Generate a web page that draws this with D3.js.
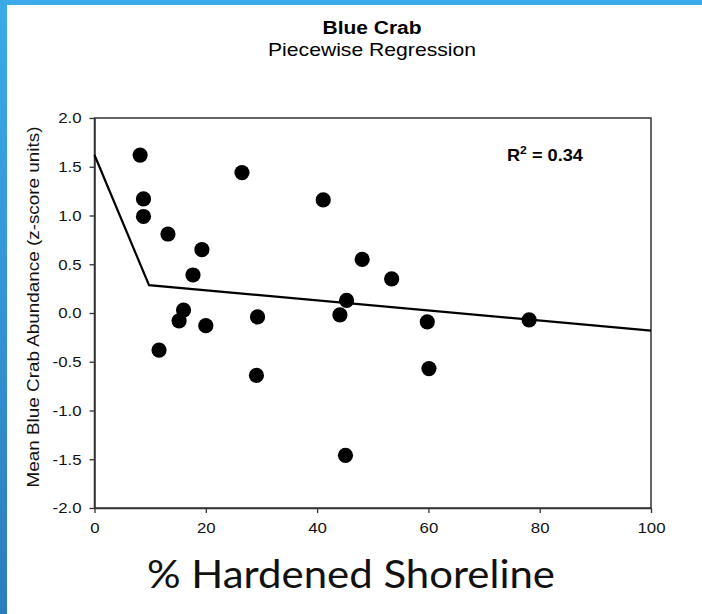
<!DOCTYPE html>
<html>
<head>
<meta charset="utf-8">
<script src="https://cdn.jsdelivr.net/npm/d3@7"></script>
<style>
  html, body { margin: 0; padding: 0; background: #fff; }
  svg { display: block; }
</style>
</head>
<body>
<svg id="chart" width="702" height="614"></svg>
<script>
// ---- data ----
const hardenedPct = [8.2, 26.5, 41.1, 8.8, 8.8, 13.2, 19.3, 48.1, 17.7, 45.3, 53.4, 16.0, 15.2, 20.0, 29.3, 44.1, 11.6, 29.1, 45.1, 59.8, 78.1, 60.1];
const crabAbundance = [1.62, 1.44, 1.16, 1.17, 0.99, 0.81, 0.65, 0.55, 0.39, 0.13, 0.35, 0.03, -0.08, -0.13, -0.04, -0.02, -0.38, -0.64, -1.46, -0.09, -0.07, -0.57];
const fitX = [0, 9.8, 100];
const fitY = [1.62, 0.285, -0.18];
const xTicks = [0, 20, 40, 60, 80, 100];
const yTicks = [-2.0, -1.5, -1.0, -0.5, 0.0, 0.5, 1.0, 1.5, 2.0];
const titleText = "Blue Crab";
const subtitleText = "Piecewise Regression";
const yTitle = "Mean Blue Crab Abundance (z-score units)";
const xTitle = "% Hardened Shoreline";
const r2Value = "0.34";

const svg = d3.select("#chart");
const W = 702, H = 614;

// background + blue slide border
const defs = svg.append("defs");
const grad = defs.append("linearGradient").attr("id", "leftband")
  .attr("x1", 0).attr("y1", 0).attr("x2", 0).attr("y2", 1);
grad.append("stop").attr("offset", "0%").attr("stop-color", "#3aabe8");
grad.append("stop").attr("offset", "100%").attr("stop-color", "#2b7cc0");
svg.append("rect").attr("width", W).attr("height", H).attr("fill", "#fff");
svg.append("rect").attr("x", 0).attr("y", 0).attr("width", W).attr("height", 5).attr("fill", "#3aabe8");
svg.append("rect").attr("x", 0).attr("y", 0).attr("width", 7).attr("height", H).attr("fill", "url(#leftband)");

const x = d3.scaleLinear().domain([0, 100]).range([94.5, 651]);
const y = d3.scaleLinear().domain([-2, 2]).range([508, 118]);

const font = "'Liberation Sans', Arial, sans-serif";

// titles
svg.append("text").attr("x", 372).attr("y", 34).attr("text-anchor", "middle")
  .attr("font-family", font).attr("font-weight", "bold").attr("font-size", 17.5)
  .attr("textLength", 99).attr("lengthAdjust", "spacingAndGlyphs")
  .attr("fill", "#000").text(titleText);
svg.append("text").attr("x", 372).attr("y", 56).attr("text-anchor", "middle")
  .attr("font-family", font).attr("font-size", 19)
  .attr("textLength", 208).attr("lengthAdjust", "spacingAndGlyphs")
  .attr("fill", "#000").text(subtitleText);

// frame
svg.append("rect")
  .attr("x", x(0)).attr("y", y(2))
  .attr("width", x(100) - x(0)).attr("height", y(-2) - y(2))
  .attr("fill", "none").attr("stroke", "#333").attr("stroke-width", 1.5);

// axes
const xAxis = svg.append("g").attr("transform", `translate(0,${y(-2)})`)
  .call(d3.axisBottom(x).tickValues(xTicks).tickSize(5).tickSizeOuter(0).tickPadding(9).tickFormat(d3.format("d")));
const yAxis = svg.append("g").attr("transform", `translate(${x(0)},0)`)
  .call(d3.axisLeft(y).tickValues(yTicks).tickSize(5).tickSizeOuter(0).tickPadding(8).tickFormat(v => v.toFixed(1)));
[xAxis, yAxis].forEach(g => {
  g.attr("font-size", 15).attr("font-family", font);
  g.select(".domain").attr("stroke", "#333").attr("stroke-width", 1.5);
  g.selectAll(".tick line").attr("stroke", "#333").attr("stroke-width", 1.3);
  g.selectAll(".tick text").attr("font-family", font).attr("font-size", 15).attr("fill", "#111")
    .each(function () {
      const len = this.getComputedTextLength();
      d3.select(this).attr("textLength", len * 1.12).attr("lengthAdjust", "spacingAndGlyphs");
    });
});

// axis titles
svg.append("text")
  .attr("transform", `translate(39,307) rotate(-90)`)
  .attr("text-anchor", "middle")
  .attr("font-family", font).attr("font-size", 17)
  .attr("textLength", 361).attr("lengthAdjust", "spacingAndGlyphs")
  .attr("fill", "#111").text(yTitle);

svg.append("text").attr("x", 351).attr("y", 588).attr("text-anchor", "middle")
  .attr("font-family", "Lato, 'Open Sans', sans-serif").attr("font-size", 38)
  .attr("textLength", 408).attr("lengthAdjust", "spacingAndGlyphs")
  .attr("fill", "#111").text(xTitle);

// R^2 annotation
const r2 = svg.append("text").attr("x", 507).attr("y", 161)
  .attr("font-family", font).attr("font-weight", "bold").attr("font-size", 16.5)
  .attr("textLength", 76).attr("lengthAdjust", "spacingAndGlyphs")
  .attr("fill", "#000");
r2.append("tspan").text("R");
r2.append("tspan").attr("font-size", 11).attr("dy", -7).text("2");
r2.append("tspan").attr("dy", 7).text(" = " + r2Value);

// regression line
const fitData = fitX.map((v, i) => [v, fitY[i]]);
svg.append("path")
  .datum(fitData)
  .attr("d", d3.line().x(d => x(d[0])).y(d => y(d[1])))
  .attr("fill", "none").attr("stroke", "#000").attr("stroke-width", 2.2)
  .attr("stroke-linejoin", "miter");

// points
const pts = hardenedPct.map((v, i) => ({ x: v, y: crabAbundance[i] }));
svg.append("g").selectAll("circle").data(pts).join("circle")
  .attr("cx", d => x(d.x)).attr("cy", d => y(d.y)).attr("r", 7.6)
  .attr("fill", "#000");
</script>
</body>
</html>
